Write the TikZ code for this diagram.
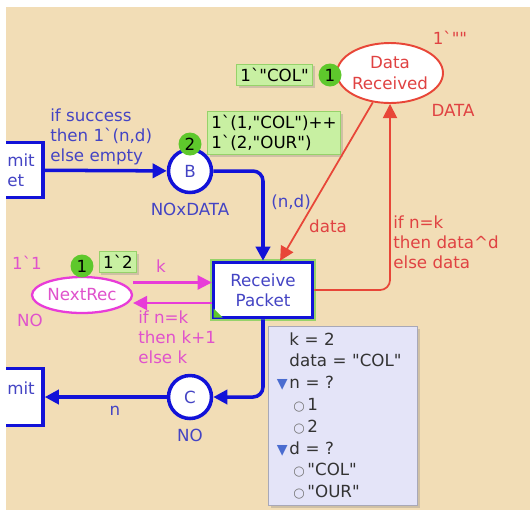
\documentclass[tikz,border=0pt]{standalone}
\usepackage{fontspec}
\newfontfamily\cpnfont{DejaVu Sans}
\usepackage{tikz}
\usetikzlibrary{arrows.meta,shapes.geometric,positioning,shadows}

\definecolor{cpnbg}{HTML}{F2DDB6}
\definecolor{cpnblue}{HTML}{1212D8}
\definecolor{cpntext}{HTML}{4444C4}
\definecolor{cpnred}{HTML}{E84638}
\definecolor{cpnredtxt}{HTML}{E04242}
\definecolor{cpnpink}{HTML}{E83CD8}
\definecolor{cpnpinktxt}{HTML}{E052CC}
\definecolor{tokgreen}{HTML}{5EC82C}
\definecolor{markfill}{HTML}{C8F0A2}
\definecolor{markedge}{HTML}{96D26A}
\definecolor{infofill}{HTML}{E4E4F8}
\definecolor{infoedge}{HTML}{A8A8B8}
\definecolor{infotext}{HTML}{333333}
\definecolor{infotri}{HTML}{4A6CD0}

\newcommand{\openmark}{\textcolor{infotri}{\fontsize{8}{8}\selectfont ▼}}
\newcommand{\valmark}{\textcolor{gray!90!black}{\fontsize{7.5}{7.5}\selectfont ○}}

\begin{document}
\cpnfont\fontsize{9.5}{11.5}\selectfont
\begin{tikzpicture}[x=0.02cm,y=-0.02cm,>={Triangle[length=8pt,width=8pt]},
    place/.style={circle,draw=cpnblue,line width=2pt,fill=white,minimum size=0.86cm,inner sep=0pt,text=cpntext},
    trans/.style={rectangle,draw=cpnblue,line width=2pt,fill=white,text=cpntext,align=center,inner sep=0pt},
    enabled/.style={preaction={draw=markedge,line width=4.2pt}},
    token/.style={circle,fill=tokgreen,minimum size=0.46cm,inner sep=0pt},
    marking/.style={rectangle,fill=markfill,draw=markedge,line width=0.5pt,align=left,inner sep=2.2pt,
        drop shadow={shadow xshift=1.2pt,shadow yshift=-1.2pt,opacity=0.3}},
    infobox/.style={rectangle,fill=infofill,draw=infoedge,line width=0.5pt,text=infotext,align=left,
        text width=2.98cm,minimum height=3.58cm,inner xsep=0pt,inner ysep=0pt,
        font=\fontsize{9.5}{12.4}\selectfont,
        drop shadow={shadow xshift=1.2pt,shadow yshift=-1.2pt,opacity=0.3}},
    bluearc/.style={->,draw=cpnblue,line width=2pt},
    redarc/.style={->,draw=cpnred,line width=1pt},
    pinkarc/.style={->,draw=cpnpink,line width=1.2pt},
    bluelbl/.style={text=cpntext,inner sep=0pt},
    redlbl/.style={text=cpnredtxt,inner sep=0pt},
    pinklbl/.style={text=cpnpinktxt,inner sep=0pt}]

  \useasboundingbox (0,0) rectangle (530,512);
  \fill[cpnbg] (6,7) rectangle (530,510);

  % transitions cut off at the left edge
  \begin{scope}
    \clip (6,7) rectangle (530,510);
    \node[trans,minimum width=2.2cm,minimum height=1.1cm] (TP1) at (-12,170) {};
    \node[trans,minimum width=2.2cm,minimum height=1.14cm] (TP2) at (-12,397) {};
  \end{scope}
  \node[bluelbl,anchor=west,align=left] (TP1txt) at (7,170) {mit\\et};
  \node[bluelbl,anchor=west] (TP2txt) at (7,388) {mit};

  % places and transition
  \node[place] (B) at (190,171) {B};
  \node[place] (C) at (190,397) {C};
  \node[trans,enabled,minimum width=1.98cm,minimum height=1.1cm] (RP) at (263,290) {Receive\\Packet};
  \fill[tokgreen] ([shift={(1pt,1pt)}]RP.south west) -- ++(0,-9) -- ++(9,9) -- cycle;
  \node[ellipse,draw=cpnred,line width=1.1pt,fill=white,minimum width=2.12cm,minimum height=1.2cm,
        label={[text=cpnredtxt,align=center]center:Data\\Received}] (DR) at (390,73) {};
  \node[ellipse,draw=cpnpink,line width=1.3pt,fill=white,minimum width=2cm,minimum height=0.72cm,
        label={[text=cpnpinktxt]center:NextRec}] (NR) at (82,295) {};

  % colour sets and initial markings
  \node[bluelbl] (Btype) [below=5pt of B] {NOxDATA};
  \node[bluelbl] (Ctype) [below=5pt of C] {NO};
  \node[redlbl] (DRtype) at (453,110) {DATA};
  \node[redlbl] (DRinit) at (450,38) {1`""};
  \node[pinklbl] (NRinit) at (27,263) {1`1};
  \node[pinklbl] (NRtype) at (30,320) {NO};

  % current markings
  \node[token] (Btok) at (190,144) {2};
  \node[token] (DRtok) at (330,75) {1};
  \node[token] (NRtok) at (82,266) {1};
  \node[marking,anchor=north west] (Bmark) at (207,111) {1`(1,"COL")++\\1`(2,"OUR")};
  \node[marking,left=0.1cm of DRtok] (DRmark) {1`"COL"};
  \node[marking,right=0.1cm of NRtok,yshift=0.08cm] (NRmark) {1`2};

  % arcs
  \draw[bluearc] (TP1) -- (B);
  \draw[bluearc,rounded corners=0.2cm] (B) -| (RP);
  \draw[bluearc,rounded corners=0.2cm] (RP) |- (C);
  \draw[bluearc] (C) -- (TP2);
  \draw[redarc] (DR) -- (RP);
  \draw[redarc,rounded corners=0.2cm] (RP) -| (DR);
  \draw[pinkarc] ([yshift=0.25cm]NR.east) -- ([yshift=0.25cm]NR.east -| RP.west);
  \draw[pinkarc] ([yshift=-0.16cm]NR.east -| RP.west) -- ([yshift=-0.16cm]NR.east);

  % arc inscriptions
  \node[bluelbl,anchor=north west,align=left] (succlbl) at (50,108) {if success\\then 1`(n,d)\\else empty};
  \node[bluelbl] (ndlbl) at (291,202) {(n,d)};
  \node[bluelbl] (nlbl) at (115,411) {n};
  \node[redlbl] (datalbl) at (328,226) {data};
  \node[redlbl,anchor=north west,align=left] (updlbl) at (393,215) {if n=k\\then data\textasciicircum d\\else data};
  \node[pinklbl] (klbl) at (161,266) {k};
  \node[pinklbl,anchor=north west,align=left] (nextlbl) at (138,310) {if n=k\\then k+1\\else k};

  % bindings
  \node[infobox,anchor=north west] (vars) at (268,326) {%
    \hspace*{0.42cm}k = 2\\
    \hspace*{0.42cm}data = "COL"\\
    \makebox[0.42cm][r]{\openmark\hspace{1pt}}n = ?\\
    \makebox[0.78cm][r]{\valmark\hspace{1.5pt}}1\\
    \makebox[0.78cm][r]{\valmark\hspace{1.5pt}}2\\
    \makebox[0.42cm][r]{\openmark\hspace{1pt}}d = ?\\
    \makebox[0.78cm][r]{\valmark\hspace{1.5pt}}"COL"\\
    \makebox[0.78cm][r]{\valmark\hspace{1.5pt}}"OUR"};
\end{tikzpicture}
\end{document}
